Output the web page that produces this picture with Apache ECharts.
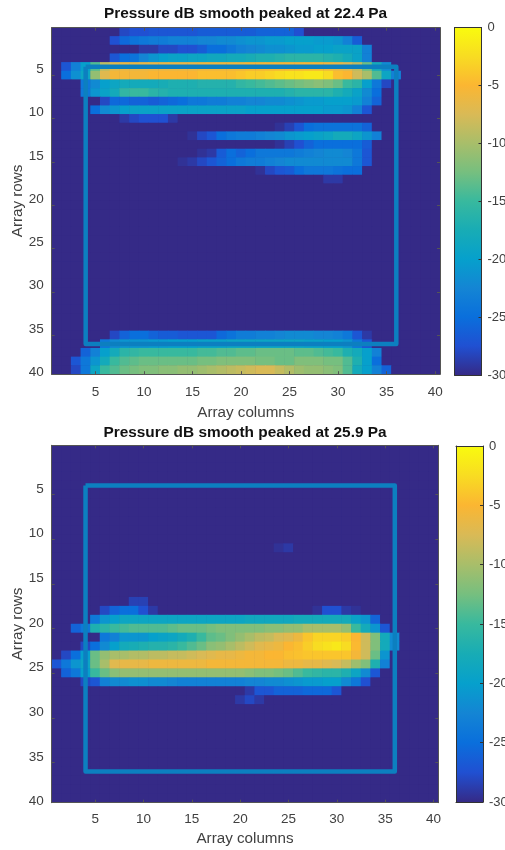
<!DOCTYPE html>
<html><head><meta charset="utf-8">
<style>html,body{margin:0;padding:0;background:#fff;overflow:hidden}#c{width:505px;height:850px;filter:blur(0.45px)}</style>
<script src="https://cdn.jsdelivr.net/npm/echarts@6/dist/echarts.min.js"></script>
</head><body><div id="c"></div>
<script>
const _ = -30; // colour floor of the dB scale
const columnLabels = Array.from({length:40},(v,i)=>String(i+1));
const rowLabels = columnLabels;
const colorTicksMin = -30, colorTicksMax = 0, colorTickStep = 5;
const boxCorners = [['4','5'],['36','5'],['36','37'],['4','37'],['4','5']];
const titleTop = 'Pressure dB smooth peaked at 22.4 Pa';
const titleBottom = 'Pressure dB smooth peaked at 25.9 Pa';
const parula = ['#352a87','#2050d2','#0a6fdc','#1485d4','#06a0cc','#18acb5','#38b99e','#76bf7f','#a8be6a','#d9ba56','#fbb632','#f8dc22','#f9fb0e'];

// Top map, rows listed by row number; leading _ are floor cells, the rest of the row is floor too.
const topR01=[_,_,_,_,_,_,_,-28,-27.5,-27.5,-27,-27,-27,-27,-27,-26.5,-26.5,-26.5,-26.5,-26.5,-26.5,-26,-26,-26,-26,-27.5];
const topR02=[_,_,_,_,_,_,-27.5,-25.5,-24.5,-24,-23.5,-23.5,-23,-23,-23,-22.5,-22.5,-22,-22,-21.5,-21,-21,-20.5,-20.5,-20,-20,-20,-20.5,-20.5,-21,-23,-26.5];
const topR03=[_,_,_,_,_,_,_,_,_,-29,-29,-28,-28,-27.5,-27.5,-26.5,-25,-25,-24,-23,-22.5,-22,-21.5,-21.5,-21,-20.5,-20.5,-20,-20,-19.5,-19.5,-19.5,-23];
const topR04=[_,_,_,_,_,_,-27,-25,-24.5,-22.5,-21,-20,-19.5,-19.5,-19,-19,-18.5,-18.5,-18,-18,-17.5,-17,-17,-16.5,-16,-16,-16,-16,-16.5,-17,-18,-19.5,-23];
const topR05=[_,-27,-23,-20,-14,-9,-7,-6.5,-6.5,-6.5,-6.5,-6.5,-6.5,-6.5,-6.5,-6,-6,-6,-6,-6,-5.5,-5.5,-5.5,-5.5,-5.5,-5.5,-5.5,-5.5,-6,-6.5,-7.5,-9,-13,-18,-22];
const topR06=[_,-25,-21.5,-19,-11,-7,-5.5,-5.5,-5.5,-5.5,-5,-5,-5,-5,-5,-4.5,-4.5,-4.5,-4.5,-4,-3.5,-3.5,-3,-2.5,-2,-2,-1.5,-1.5,-2.5,-4.5,-5,-8,-10,-14,-19,-23];
const topR07=[_,_,_,-24,-22,-20,-19,-18,-18,-18,-18,-17.5,-17,-17,-17,-16.5,-16.5,-16.5,-16.5,-15.5,-15,-14.5,-14,-13.5,-13,-12.5,-12,-11.5,-12,-13,-15,-16,-20,-24,-28];
const topR08=[_,_,_,-24,-21,-19.5,-18,-15.5,-15,-15,-16,-16.5,-17,-17,-17,-17,-17,-17,-17,-17,-17,-17,-17,-17,-16.5,-16,-16,-16,-16,-17,-18,-19.5,-22,-25];
const topR09=[_,_,_,_,_,-28,-25.5,-25.5,-26,-26,-26.5,-26,-25.5,-25,-24,-24,-23.5,-23.5,-23,-23,-22.5,-22.5,-22,-22,-21.5,-21,-20.5,-20.5,-20,-20,-20,-20.5,-23,-26];
const topR10=[_,_,_,_,-25,-22,-21,-20,-19.5,-19.5,-19.5,-19.5,-19.5,-19.5,-19.5,-19.5,-19.5,-19.5,-19.5,-19.5,-20,-20,-20,-20,-20,-20,-20,-20,-20.5,-20.5,-21,-23,-27];
const topR11=[_,_,_,_,_,_,_,-29,-28,-27.5,-27.5,-27.5,-29];
const topR12=[_,_,_,_,_,_,_,_,_,_,_,_,_,_,_,_,_,_,_,_,_,_,_,-29.5,-28.5,-27,-25,-24.5,-24.5,-24.5,-24.5,-24.5,-26];
const topR13=[_,_,_,_,_,_,_,_,_,_,_,_,_,_,-29.5,-28,-27,-25,-24,-23.5,-23.5,-23,-22.5,-22,-21,-20.5,-20,-19.5,-19,-18,-18,-19,-21,-23];
const topR14=[_,_,_,_,_,_,_,_,_,_,_,_,_,_,_,_,_,_,_,_,_,_,_,-29.5,-28.5,-27.5,-26,-25,-25,-25,-25,-25,-26.5];
const topR15=[_,_,_,_,_,_,_,_,_,_,_,_,_,_,_,-29.5,-29,-26.5,-25,-26,-25,-24,-24,-24,-24,-23.5,-23,-22.5,-22,-22,-22.5,-24,-27];
const topR16=[_,_,_,_,_,_,_,_,_,_,_,_,_,-29.5,-29,-28,-27,-26,-25,-24,-23.5,-23.5,-23,-22.5,-22,-22,-22,-22,-22,-22,-22,-24,-27];
const topR17=[_,_,_,_,_,_,_,_,_,_,_,_,_,_,_,_,_,_,_,_,_,-29.5,-28,-27,-26.5,-25,-24,-24,-24,-24.5,-25,-25];
const topR18=[_,_,_,_,_,_,_,_,_,_,_,_,_,_,_,_,_,_,_,_,_,_,_,_,_,_,_,_,-29,-29];
const topR36=[_,_,_,_,_,_,-28,-26,-25,-25,-26,-26.5,-26.5,-27,-27,-27,-27,-25.5,-24.5,-23.5,-23.5,-23,-23,-22.5,-22,-22,-22,-22.5,-22.5,-23,-24,-27,-29];
const topR37=[_,_,_,_,_,-24,-22,-21,-21,-21,-20.5,-20.5,-20,-20,-20,-19.5,-19.5,-19.5,-19,-19,-19,-19,-19,-19,-19,-19,-19.5,-19.5,-20,-20,-21,-24,-27];
const topR38=[_,_,_,-26,-23,-20,-18,-16,-15.5,-15,-15,-15,-15,-15,-15,-14.5,-14.5,-14,-14,-13.5,-13.5,-13,-13,-13,-13,-13.5,-13.5,-14,-14.5,-15,-17,-18,-20,-23];
const topR39=[_,_,-27,-24,-21,-18,-15,-14,-13.5,-13,-13,-13,-13,-13,-13,-12.5,-12.5,-12,-12,-12,-12,-12.5,-12.5,-13,-13,-12,-12,-12,-12.5,-12.5,-14,-17,-20,-25];
const topR40=[_,_,-28,-24,-19,-15,-14,-13,-12.5,-12,-12,-11.5,-11.5,-11,-11,-10.5,-10,-9.5,-9,-8.5,-8,-7.5,-7.5,-8.5,-9.5,-10.5,-11,-11,-11.5,-12,-14,-18,-20,-23,-26];

// Bottom map
const botR12=[_,_,_,_,_,_,_,_,_,_,_,_,_,_,_,_,_,_,_,_,_,_,_,-29.5,-29];
const botR18=[_,_,_,_,_,_,_,_,-28.5,-28.5];
const botR19=[_,_,_,_,_,-28,-26,-25,-25,-27.5,-29,_,_,_,_,_,_,_,_,_,_,_,_,_,_,_,_,-29.5,-27.5,-27.5,-29,-29.5];
const botR20=[_,_,_,_,-24,-21,-20,-19,-19,-19,-19,-19,-19,-19,-19,-19,-19,-19,-19,-19,-18.5,-18.5,-18.5,-18.5,-18.5,-18,-18,-18,-18,-18,-18,-19.5,-21,-26];
const botR21=[_,_,-26,-24,-17,-16,-15,-14.5,-14,-14,-14,-14,-13.5,-13,-13,-13,-12.5,-12,-12,-12,-12,-12,-11.5,-11.5,-11,-11,-10,-10,-10,-10,-11,-15,-18,-21,-27];
const botR22=[_,_,_,_,_,-24,-23,-21,-21,-21,-20,-19.5,-19,-18,-17,-15,-13.5,-13,-12,-11,-10,-9,-8.5,-7.5,-7,-6,-4,-3,-3,-3,-3.5,-5,-8,-12,-18,-22];
const botR23=[_,_,_,-28,-25,-22,-20,-18,-17.5,-17,-16.5,-16.5,-16,-15,-14,-13,-11.5,-11,-10,-9,-8,-7,-6.5,-6,-5,-4.5,-3.5,-2.5,-2,-1.5,-2.5,-4.8,-8,-12,-18,-22];
const botR24=[_,-28,-25,-20,-13,-11,-10,-10,-9.5,-9.5,-9,-9,-8.5,-8.5,-8,-7.5,-7,-6.5,-6.5,-6,-5.5,-5.5,-5,-5,-4.5,-4.3,-4,-4,-4,-4,-4,-5.5,-8,-13,-21];
const botR25=[-27,-24,-21,-19,-13,-10,-7,-6.5,-6.5,-6.5,-6,-6,-6,-6,-6,-6,-5.5,-5.5,-5.5,-5.5,-5.5,-5.5,-5.5,-5.5,-6,-6,-6.5,-6.5,-7,-7.5,-8.5,-10.5,-12,-17,-23];
const botR26=[_,-26,-24,-20,-15,-13,-11.5,-11,-11,-11,-11,-11,-11,-11,-11,-11,-11,-11,-11,-11,-11.5,-12,-12,-12.5,-13,-14,-15,-15.5,-16,-16,-17,-19,-22,-27];
const botR27=[_,_,_,-28,-27,-23,-22,-22,-21.5,-21.5,-22,-22,-22.5,-23,-23,-23,-23,-23,-23,-23,-22.5,-22.5,-22,-22,-21.5,-21,-20.5,-20.5,-20,-20,-22,-24,-27.5];
const botR28=[_,_,_,_,_,_,_,_,_,_,_,_,_,_,_,_,_,_,_,_,-29,-27,-27,-26,-26,-26,-25.5,-25.5,-25.5,-27];
const botR29=[_,_,_,_,_,_,_,_,_,_,_,_,_,_,_,_,_,_,_,-29,-28,-29];

const topRows = {1:topR01,2:topR02,3:topR03,4:topR04,5:topR05,6:topR06,7:topR07,8:topR08,9:topR09,10:topR10,11:topR11,12:topR12,13:topR13,14:topR14,15:topR15,16:topR16,17:topR17,18:topR18,36:topR36,37:topR37,38:topR38,39:topR39,40:topR40};
const botRows = {12:botR12,18:botR18,19:botR19,20:botR20,21:botR21,22:botR22,23:botR23,24:botR24,25:botR25,26:botR26,27:botR27,28:botR28,29:botR29};

function cells(rows){
  const out=[];
  for(let r=0;r<40;r++){const row=rows[r+1]||[];
    for(let c=0;c<40;c++){out.push([c,r,c<row.length?row[c]:_]);}}
  return out;
}
const FONT='"Liberation Sans",Arial,sans-serif';
const GREY='#404040', AXIS='#555';
const xTick=i=>(i+1)%5===0;
const yTick=i=>i>0&&(i+1)%5===1;
function mapAxes(g,lh,xMargin,xNameGap){
  const xb={gridIndex:g,type:'category',data:columnLabels,position:'bottom',name:'Array columns',nameLocation:'middle',nameGap:xNameGap,nameMoveOverlap:false,
    nameTextStyle:{color:GREY,fontSize:15.2,fontFamily:FONT},
    axisLine:{show:true,lineStyle:{color:AXIS,width:1}},
    axisTick:{show:true,inside:true,length:3,alignWithLabel:true,interval:xTick,lineStyle:{color:AXIS}},
    axisLabel:{show:true,interval:(i)=>xTick(i),color:GREY,fontSize:13.5,fontFamily:FONT,margin:xMargin},splitLine:{show:false},z:5};
  const xt={gridIndex:g,type:'category',data:columnLabels,position:'top',
    axisLine:{show:true,lineStyle:{color:AXIS,width:1}},
    axisTick:{show:true,inside:true,length:3,alignWithLabel:true,interval:xTick,lineStyle:{color:AXIS}},
    axisLabel:{show:false},splitLine:{show:false},z:5};
  const yl={gridIndex:g,type:'category',data:rowLabels,inverse:true,position:'left',name:'Array rows',nameLocation:'middle',nameGap:26,nameRotate:90,nameMoveOverlap:false,
    nameTextStyle:{color:GREY,fontSize:15.2,fontFamily:FONT},
    axisLine:{show:true,lineStyle:{color:AXIS,width:1}},
    axisTick:{show:true,inside:true,length:3,alignWithLabel:true,interval:yTick,lineStyle:{color:AXIS}},
    axisLabel:{show:true,interval:(i)=>xTick(i),color:GREY,fontSize:13.5,fontFamily:FONT,margin:8,verticalAlign:'top',lineHeight:lh},splitLine:{show:false},z:5};
  const yr={gridIndex:g,type:'category',data:rowLabels,inverse:true,position:'right',
    axisLine:{show:true,lineStyle:{color:AXIS,width:1}},
    axisTick:{show:true,inside:true,length:3,alignWithLabel:true,interval:yTick,lineStyle:{color:AXIS}},
    axisLabel:{show:false},splitLine:{show:false},z:5};
  return {x:[xb,xt],y:[yl,yr]};
}
function barAxes(g){
  const line={show:true,lineStyle:{color:'#333',width:1}};
  return {x:[{gridIndex:g,type:'value',min:0,max:1,position:'bottom',axisLine:{...line,onZero:false},axisTick:{show:false},axisLabel:{show:false},splitLine:{show:false},z:5},
             {gridIndex:g,type:'value',min:0,max:1,position:'top',axisLine:{...line,onZero:false},axisTick:{show:false},axisLabel:{show:false},splitLine:{show:false},z:5}],
          y:[{gridIndex:g,type:'value',min:colorTicksMin,max:colorTicksMax,interval:colorTickStep,position:'right',axisLine:{...line,onZero:false},
              axisTick:{show:true,inside:true,length:3,lineStyle:{color:'#333'}},axisLabel:{color:GREY,fontSize:13,fontFamily:FONT,margin:6},splitLine:{show:false},z:5},
             {gridIndex:g,type:'value',min:colorTicksMin,max:colorTicksMax,interval:colorTickStep,position:'left',axisLine:{...line,onZero:false},
              axisTick:{show:false},axisLabel:{show:false},splitLine:{show:false},z:5}]};
}
const a0=mapAxes(0,5,11,31),a1=mapAxes(1,7,10,29),b0=barAxes(2),b1=barAxes(3);
const boxLine=(x,y)=>({type:'line',xAxisIndex:x,yAxisIndex:y,data:boxCorners,symbol:'none',silent:true,z:3,
  lineStyle:{color:'#0c7fc0',width:4.5,join:'round'},animation:false});
const heat=(x,y,rows)=>({type:'heatmap',xAxisIndex:x,yAxisIndex:y,data:cells(rows),progressive:0,silent:true,animation:false,itemStyle:{borderWidth:0},emphasis:{disabled:true}});
const gradient=()=>new echarts.graphic.LinearGradient(0,1,0,0,parula.map((c,i)=>({offset:i/(parula.length-1),color:c})));
const BG='#352a87';
const chart=echarts.init(document.getElementById('c'),null,{renderer:'canvas',width:505,height:850});
chart.setOption({
  animation:false,backgroundColor:'#fff',
  title:[{text:titleTop,left:245.5,top:6,textAlign:'center',padding:0,textStyle:{fontSize:15.4,fontWeight:'bold',color:'#111',fontFamily:FONT}},
         {text:titleBottom,left:245,top:425.5,textAlign:'center',padding:0,textStyle:{fontSize:15.4,fontWeight:'bold',color:'#111',fontFamily:FONT}}],
  grid:[{left:51.7,top:27.7,width:388.3,height:346.5,outerBoundsMode:'none',show:true,backgroundColor:BG,borderWidth:0},
        {left:51.7,top:445.3,width:386.6,height:357.4,outerBoundsMode:'none',show:true,backgroundColor:BG,borderWidth:0},
        {left:454.5,top:27.5,width:27,height:347.5,outerBoundsMode:'none'},
        {left:456,top:446,width:27,height:356,outerBoundsMode:'none'}],
  xAxis:[...a0.x,...a1.x,...b0.x,...b1.x],
  yAxis:[...a0.y,...a1.y,...b0.y,...b1.y],
  visualMap:[
    {type:'continuous',seriesIndex:0,min:colorTicksMin,max:colorTicksMax,show:false,inRange:{color:parula}},
    {type:'continuous',seriesIndex:2,min:colorTicksMin,max:colorTicksMax,show:false,inRange:{color:parula}}
  ],
  graphic:[
    {type:'rect',z:1,silent:true,shape:{x:454.5,y:27.5,width:27,height:347.5},style:{fill:gradient()}},
    {type:'rect',z:1,silent:true,shape:{x:456,y:446,width:27,height:356},style:{fill:gradient()}}
  ],
  series:[heat(0,0,topRows),boxLine(0,0),heat(2,2,botRows),boxLine(2,2)]
});
</script></body></html>
